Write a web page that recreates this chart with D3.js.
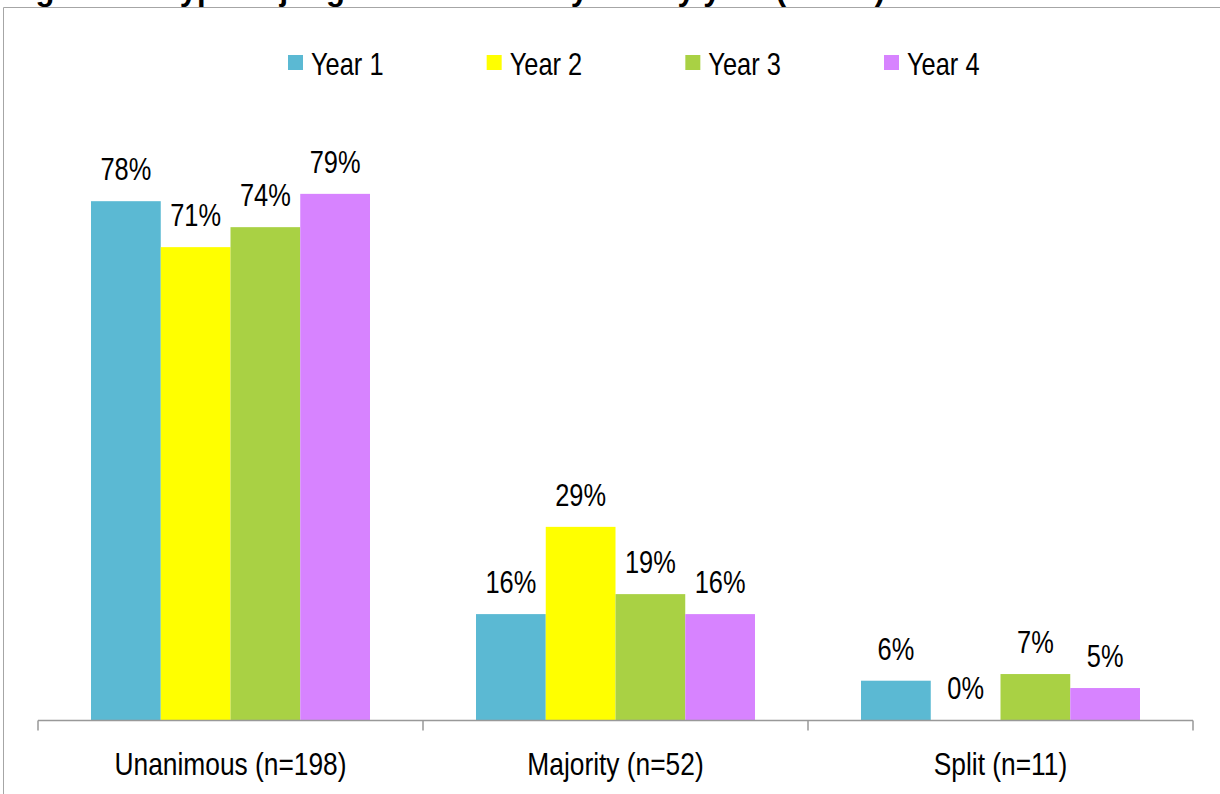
<!DOCTYPE html>
<html><head><meta charset="utf-8">
<script src="https://cdn.jsdelivr.net/npm/d3@7"></script>
<style>html,body{margin:0;padding:0;background:#fff;overflow:hidden}</style>
</head><body>
<svg id="chart" width="1220" height="794"></svg>
<script>
const categories = ["Unanimous (n=198)", "Majority (n=52)", "Split (n=11)"];
const seriesNames = ["Year 1", "Year 2", "Year 3", "Year 4"];
const year1 = [77.9, 15.9, 5.9];
const year2 = [71.0, 29.0, 0.0];
const year3 = [74.0, 18.9, 6.9];
const year4 = [79.0, 15.9, 4.8];
const valueLabels = [["78%","16%","6%"],["71%","29%","0%"],["74%","19%","7%"],["79%","16%","5%"]];
const colors = ["#5bb9d3", "#ffff00", "#a9d144", "#d783ff"];
const title = "Figure 11: Type of judgments issued by CIC by year (n=261)";

const series = [year1, year2, year3, year4];
const svg = d3.select("#chart");
const FONT = "'Liberation Sans', Arial, sans-serif";
const SX = 0.82;

// frame
svg.append("path").attr("d","M3.5,800V7.5H1225").attr("fill","none").attr("stroke","#a6a6a6").attr("stroke-width",1);

// title (cut off at top edge, as in the reference)
svg.append("text").attr("x",8).attr("y",-0.5).text(title)
  .attr("font-family",FONT).attr("font-weight","bold").attr("font-size",31).attr("fill","#000");

const x0 = d3.scaleBand().domain(categories).range([38,1193]).paddingInner(0).paddingOuter(0);
const x1 = d3.scaleBand().domain(seriesNames).range([0,x0.bandwidth()]).paddingInner(0).paddingOuter(0.76);
const y = d3.scaleLinear().domain([0,100]).range([720,54]);

series.forEach((vals,si)=>{
  const g = svg.append("g");
  g.selectAll("rect").data(vals).join("rect")
    .attr("x",(d,i)=>x0(categories[i])+x1(seriesNames[si]))
    .attr("y",d=>y(d))
    .attr("width",x1.bandwidth())
    .attr("height",d=>y(0)-y(d))
    .attr("fill",colors[si]);
  g.selectAll("g.lab").data(vals).join("g").attr("class","lab")
    .attr("transform",(d,i)=>`translate(${x0(categories[i])+x1(seriesNames[si])+x1.bandwidth()/2},${y(d)-21}) scale(${SX},1)`)
    .append("text").attr("text-anchor","middle")
    .attr("font-family",FONT).attr("font-size",31).attr("fill","#000")
    .text((d,i)=>valueLabels[si][i]);
});

// axis
const axis = svg.append("g").attr("transform","translate(0,720.5)");
axis.append("line").attr("x1",38).attr("x2",1193).attr("stroke","#999").attr("stroke-width",1.5);
const tickPos = categories.map(c=>x0(c)).concat([x0.range()[1]]);
axis.selectAll("line.t").data(tickPos).join("line").attr("class","t")
  .attr("x1",d=>d).attr("x2",d=>d).attr("y1",0).attr("y2",10).attr("stroke","#999").attr("stroke-width",1.5);
axis.selectAll("g.c").data(categories).join("g").attr("class","c")
  .attr("transform",d=>`translate(${x0(d)+x0.bandwidth()/2},54.5) scale(0.85,1)`)
  .append("text").attr("text-anchor","middle")
  .attr("font-family",FONT).attr("font-size",31).attr("fill","#000").text(d=>d);

// legend
const lg = svg.append("g");
const legX = d3.scalePoint().domain(seriesNames).range([288,884]);
seriesNames.forEach((n,i)=>{
  lg.append("rect").attr("x",legX(n)).attr("y",55).attr("width",15).attr("height",15).attr("fill",colors[i]);
  lg.append("g").attr("transform",`translate(${legX(n)+23},75) scale(${SX},1)`)
    .append("text").attr("font-family",FONT).attr("font-size",31).attr("fill","#000").text(n);
});
</script>
</body></html>
